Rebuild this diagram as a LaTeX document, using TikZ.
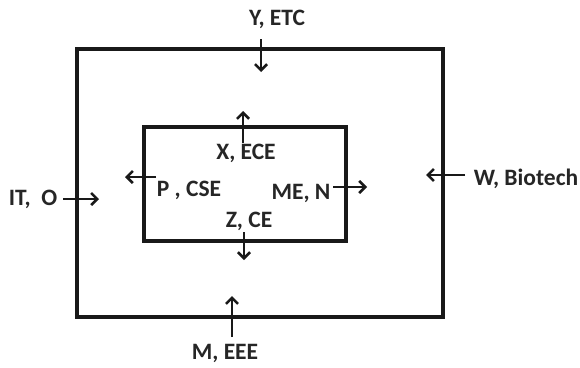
\documentclass[tikz,border=0pt]{standalone}
\usepackage{fontspec}
\setmainfont{Carlito}
\usetikzlibrary{arrows.meta}
\begin{document}
\begin{tikzpicture}[x=1pt,y=-1pt,
  boxline/.style={draw=black!90,line width=3.4pt},
  flow/.style={draw=black!90,line width=2.8pt,-{Straight Barb[length=6pt,width=12pt,line width=2.6pt]}},
  lbl/.style={inner sep=0pt,font=\fontsize{23.5}{28}\selectfont\bfseries,text=black!85,text height=15pt,text depth=0pt,anchor=center}]
\useasboundingbox (0,0) rectangle (580,367);
\fill[white] (0,0) rectangle (580,367);
% boxes
\node[boxline,minimum width=366pt,minimum height=268pt,inner sep=0pt] (outer) at (260,183) {};
\node[boxline,minimum width=202pt,minimum height=114pt,inner sep=0pt] (inner) at (245,184) {};
% labels
\node[lbl] (y) at (277,18) {Y, ETC};
\node[lbl] (x) at (246,152) {X, ECE};
\node[lbl] (p) at (189,189) {P , CSE};
\node[lbl] (me) at (301,192) {ME, N};
\node[lbl] (z) at (249,220) {Z, CE};
\node[lbl] (it) at (33,198) {IT,\ \ O};
\node[lbl] (w) at (526,178) {W, Biotech};
\node[lbl] (m) at (225,352) {M, EEE};
% arrow endpoints
\coordinate (ys) at (261,39);  \coordinate (ye) at (261,72);
\coordinate (xs) at (243,143); \coordinate (xe) at (243,111);
\coordinate (ps) at (156,177); \coordinate (pe) at (125,177);
\coordinate (ms) at (333,187); \coordinate (mse) at (367,187);
\coordinate (zs) at (244,232); \coordinate (ze) at (244,260);
\coordinate (is) at (63,199);  \coordinate (ie) at (99,199);
\coordinate (ws) at (465,175); \coordinate (we) at (426,175);
\coordinate (es) at (232,337); \coordinate (ee) at (232,296);
\draw[flow] (ys) -- (ye);
\draw[flow] (xs) -- (xe);
\draw[flow] (ps) -- (pe);
\draw[flow] (ms) -- (mse);
\draw[flow] (zs) -- (ze);
\draw[flow] (is) -- (ie);
\draw[flow] (ws) -- (we);
\draw[flow] (es) -- (ee);
\end{tikzpicture}
\end{document}
